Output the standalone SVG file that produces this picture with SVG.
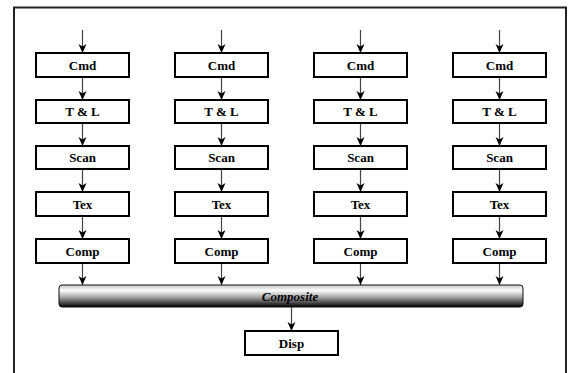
<svg xmlns="http://www.w3.org/2000/svg" width="575" height="373" viewBox="0 0 575 373">
<style>
.box{fill:#fff;stroke:#000;stroke-width:2}
.lbl{font-family:'Liberation Serif','Times New Roman',serif;font-weight:bold;font-size:13px;text-anchor:middle;fill:#000}
.con{stroke:#444;stroke-width:1.2;fill:none;marker-end:url(#ah)}
</style>
<defs>
<marker id="ah" markerWidth="10" markerHeight="10" refX="9" refY="5" orient="auto" markerUnits="userSpaceOnUse">
<path d="M0,1 L9,5 L0,9 L2.5,5 Z" fill="#000"/>
</marker>
<linearGradient id="bg" x1="0" y1="0" x2="0" y2="1">
<stop offset="0" stop-color="#c8c8c8"/>
<stop offset="0.25" stop-color="#fafafa"/>
<stop offset="0.55" stop-color="#a8a8a8"/>
<stop offset="1" stop-color="#000"/>
</linearGradient>
</defs>
<rect x="14" y="7.5" width="552" height="380" fill="#fff" stroke="#222" stroke-width="2"/>
<g id="connectors">
<line class="con" x1="82.5" y1="30" x2="82.5" y2="53"/>
<line class="con" x1="82.5" y1="77" x2="82.5" y2="100"/>
<line class="con" x1="82.5" y1="123" x2="82.5" y2="146"/>
<line class="con" x1="82.5" y1="169" x2="82.5" y2="192"/>
<line class="con" x1="82.5" y1="216" x2="82.5" y2="239"/>
<line class="con" x1="82.5" y1="263" x2="82.5" y2="285"/>
<line class="con" x1="221.5" y1="30" x2="221.5" y2="53"/>
<line class="con" x1="221.5" y1="77" x2="221.5" y2="100"/>
<line class="con" x1="221.5" y1="123" x2="221.5" y2="146"/>
<line class="con" x1="221.5" y1="169" x2="221.5" y2="192"/>
<line class="con" x1="221.5" y1="216" x2="221.5" y2="239"/>
<line class="con" x1="221.5" y1="263" x2="221.5" y2="285"/>
<line class="con" x1="360.5" y1="30" x2="360.5" y2="53"/>
<line class="con" x1="360.5" y1="77" x2="360.5" y2="100"/>
<line class="con" x1="360.5" y1="123" x2="360.5" y2="146"/>
<line class="con" x1="360.5" y1="169" x2="360.5" y2="192"/>
<line class="con" x1="360.5" y1="216" x2="360.5" y2="239"/>
<line class="con" x1="360.5" y1="263" x2="360.5" y2="285"/>
<line class="con" x1="499.5" y1="30" x2="499.5" y2="53"/>
<line class="con" x1="499.5" y1="77" x2="499.5" y2="100"/>
<line class="con" x1="499.5" y1="123" x2="499.5" y2="146"/>
<line class="con" x1="499.5" y1="169" x2="499.5" y2="192"/>
<line class="con" x1="499.5" y1="216" x2="499.5" y2="239"/>
<line class="con" x1="499.5" y1="263" x2="499.5" y2="285"/>
<line class="con" x1="291.5" y1="307" x2="291.5" y2="331"/>
</g>
<g id="cmd1"><rect class="box" x="36" y="53" width="93" height="24"/><text class="lbl" x="82.5" y="69.5">Cmd</text></g>
<g id="tl1"><rect class="box" x="36" y="100" width="93" height="23"/><text class="lbl" x="82.5" y="116">T &amp; L</text></g>
<g id="scan1"><rect class="box" x="36" y="146" width="93" height="23"/><text class="lbl" x="82.5" y="162">Scan</text></g>
<g id="tex1"><rect class="box" x="36" y="192" width="93" height="24"/><text class="lbl" x="82.5" y="208.5">Tex</text></g>
<g id="comp1"><rect class="box" x="36" y="239" width="93" height="24"/><text class="lbl" x="82.5" y="255.5">Comp</text></g>
<g id="cmd2"><rect class="box" x="175" y="53" width="93" height="24"/><text class="lbl" x="221.5" y="69.5">Cmd</text></g>
<g id="tl2"><rect class="box" x="175" y="100" width="93" height="23"/><text class="lbl" x="221.5" y="116">T &amp; L</text></g>
<g id="scan2"><rect class="box" x="175" y="146" width="93" height="23"/><text class="lbl" x="221.5" y="162">Scan</text></g>
<g id="tex2"><rect class="box" x="175" y="192" width="93" height="24"/><text class="lbl" x="221.5" y="208.5">Tex</text></g>
<g id="comp2"><rect class="box" x="175" y="239" width="93" height="24"/><text class="lbl" x="221.5" y="255.5">Comp</text></g>
<g id="cmd3"><rect class="box" x="314" y="53" width="93" height="24"/><text class="lbl" x="360.5" y="69.5">Cmd</text></g>
<g id="tl3"><rect class="box" x="314" y="100" width="93" height="23"/><text class="lbl" x="360.5" y="116">T &amp; L</text></g>
<g id="scan3"><rect class="box" x="314" y="146" width="93" height="23"/><text class="lbl" x="360.5" y="162">Scan</text></g>
<g id="tex3"><rect class="box" x="314" y="192" width="93" height="24"/><text class="lbl" x="360.5" y="208.5">Tex</text></g>
<g id="comp3"><rect class="box" x="314" y="239" width="93" height="24"/><text class="lbl" x="360.5" y="255.5">Comp</text></g>
<g id="cmd4"><rect class="box" x="453" y="53" width="93" height="24"/><text class="lbl" x="499.5" y="69.5">Cmd</text></g>
<g id="tl4"><rect class="box" x="453" y="100" width="93" height="23"/><text class="lbl" x="499.5" y="116">T &amp; L</text></g>
<g id="scan4"><rect class="box" x="453" y="146" width="93" height="23"/><text class="lbl" x="499.5" y="162">Scan</text></g>
<g id="tex4"><rect class="box" x="453" y="192" width="93" height="24"/><text class="lbl" x="499.5" y="208.5">Tex</text></g>
<g id="comp4"><rect class="box" x="453" y="239" width="93" height="24"/><text class="lbl" x="499.5" y="255.5">Comp</text></g>
<g id="composite"><rect x="59" y="285" width="464" height="22" rx="3" fill="url(#bg)" stroke="#111" stroke-width="1"/><text class="lbl" x="290" y="300.5" font-style="italic" fill="#111">Composite</text></g>
<g id="disp"><rect class="box" x="245" y="331" width="93" height="24"/><text class="lbl" x="291.5" y="347.5">Disp</text></g>
</svg>
